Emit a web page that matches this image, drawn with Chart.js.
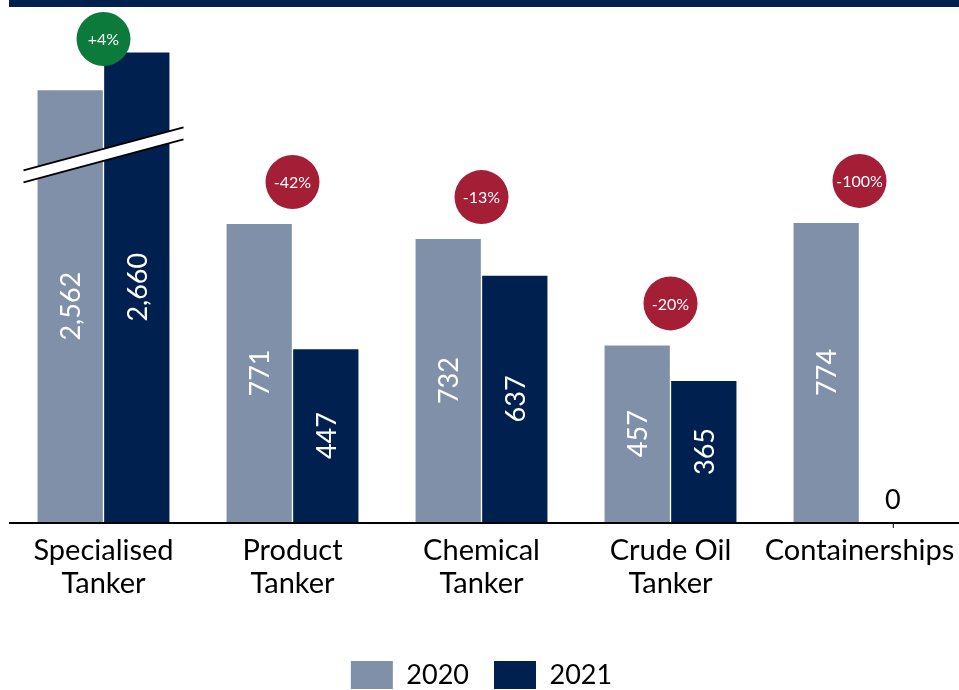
<!DOCTYPE html>
<html><head><meta charset="utf-8">
<script src="https://cdn.jsdelivr.net/npm/chart.js@4"></script>
<style>html,body{margin:0;padding:0;background:#fff;overflow:hidden}</style>
</head><body>
<canvas id="c" width="959" height="690"></canvas>
<script>
// ---- data ----
const categories = [["Specialised","Tanker"],["Product","Tanker"],["Chemical","Tanker"],["Crude Oil","Tanker"],["Containerships"]];
const seriesNames = ["2020","2021"];
const values2020 = [2562, 771, 732, 457, 774];
const values2021 = [2660, 447, 637, 365, 0];
const axisBreak = {from: 950, to: 2395};   // value range cut out of the y axis
const yMax = 1330;

// ---- styles ----
const NAVY = '#002150', GREY = '#8090a9', GREEN = '#0b7a3a', RED = '#a41e36';
const FONT = 'Lato, "Open Sans", sans-serif';

const shown = v => v > axisBreak.to ? v - (axisBreak.to - axisBreak.from) : v;

const decor = {
  id: 'decor',
  afterDatasetsDraw(chart) {
    const ctx = chart.ctx, ca = chart.chartArea;
    const x = chart.scales.x, y = chart.scales.y;
    const raw = [values2020, values2021];
    ctx.save();
    // top band
    ctx.fillStyle = NAVY;
    ctx.fillRect(9, 0, chart.width - 9, 7);
    // axis line
    ctx.strokeStyle = '#000'; ctx.lineWidth = 2;
    ctx.beginPath(); ctx.moveTo(9, ca.bottom + 1); ctx.lineTo(chart.width, ca.bottom + 1); ctx.stroke();
    // axis breaks
    categories.forEach((c, i) => {
      if (Math.max(values2020[i], values2021[i]) > axisBreak.to) {
        const cx = x.getPixelForValue(i), cy = y.getPixelForValue(axisBreak.from);
        const hw = 80, dy = 21.5, g = 6;
        ctx.fillStyle = '#fff';
        ctx.beginPath();
        ctx.moveTo(cx - hw, cy + dy - g); ctx.lineTo(cx + hw, cy - dy - g);
        ctx.lineTo(cx + hw, cy - dy + g); ctx.lineTo(cx - hw, cy + dy + g);
        ctx.closePath(); ctx.fill();
        ctx.strokeStyle = '#000'; ctx.lineWidth = 2;
        ctx.beginPath();
        ctx.moveTo(cx - hw, cy + dy - g); ctx.lineTo(cx + hw, cy - dy - g);
        ctx.moveTo(cx - hw, cy + dy + g); ctx.lineTo(cx + hw, cy - dy + g);
        ctx.stroke();
      }
    });
    // value labels
    ctx.font = '27px ' + FONT;
    [0, 1].forEach(d => {
      chart.getDatasetMeta(d).data.forEach((bar, i) => {
        const v = raw[d][i];
        const txt = v.toLocaleString('en-US');
        if (v === 0) {
          ctx.strokeStyle = '#000'; ctx.lineWidth = 1;
          ctx.beginPath(); ctx.moveTo(bar.x + 0.5, ca.bottom); ctx.lineTo(bar.x + 0.5, ca.bottom + 6); ctx.stroke();
          ctx.fillStyle = '#000'; ctx.textAlign = 'center'; ctx.textBaseline = 'bottom';
          ctx.fillText(txt, bar.x, ca.bottom - 8);
          return;
        }
        ctx.save();
        ctx.translate(bar.x, (bar.y + bar.base) / 2);
        ctx.rotate(-Math.PI / 2);
        ctx.fillStyle = '#fff'; ctx.textAlign = 'center'; ctx.textBaseline = 'middle';
        ctx.fillText(txt, 0, 1);
        ctx.restore();
      });
    });
    // change bubbles
    ctx.font = '16px ' + FONT;
    categories.forEach((c, i) => {
      const a = values2020[i], b = values2021[i];
      const pct = Math.round((b - a) / a * 100);
      const label = (pct > 0 ? '+' : '') + pct + '%';
      const top = Math.min(chart.getDatasetMeta(0).data[i].y, chart.getDatasetMeta(1).data[i].y);
      const cx = x.getPixelForValue(i), cy = Math.max(top - 42, 39);
      ctx.fillStyle = pct >= 0 ? GREEN : RED;
      ctx.beginPath(); ctx.arc(cx, cy, 27, 0, Math.PI * 2); ctx.fill();
      ctx.fillStyle = '#fff'; ctx.textAlign = 'center'; ctx.textBaseline = 'middle';
      ctx.fillText(label, cx, cy + 1);
    });
    ctx.restore();
  }
};

new Chart(document.getElementById('c'), {
  type: 'bar',
  data: {
    labels: categories,
    datasets: [
      {label: seriesNames[0], data: values2020.map(shown), backgroundColor: GREY},
      {label: seriesNames[1], data: values2021.map(shown), backgroundColor: NAVY}
    ]
  },
  options: {
    responsive: false, animation: false, devicePixelRatio: 1,
    categoryPercentage: 0.705, barPercentage: 0.98,
    layout: {padding: {top: 8, left: 9, right: 5, bottom: -9}},
    scales: {
      x: {
        grid: {display: false, drawTicks: false}, border: {display: false},
        ticks: {color: '#000', font: {family: FONT, size: 29, lineHeight: 1.14}, padding: 12, maxRotation: 0, autoSkip: false},
        afterFit: s => { s.height = 114; s.paddingLeft = 0; s.paddingRight = 0; }
      },
      y: {display: false, min: 0, max: yMax}
    },
    plugins: {
      legend: {
        position: 'bottom',
        labels: {boxWidth: 42, boxHeight: 28, color: '#000', font: {family: FONT, size: 27}, padding: 25}
      },
      tooltip: {enabled: false}
    }
  },
  plugins: [decor]
});
</script>
</body></html>
